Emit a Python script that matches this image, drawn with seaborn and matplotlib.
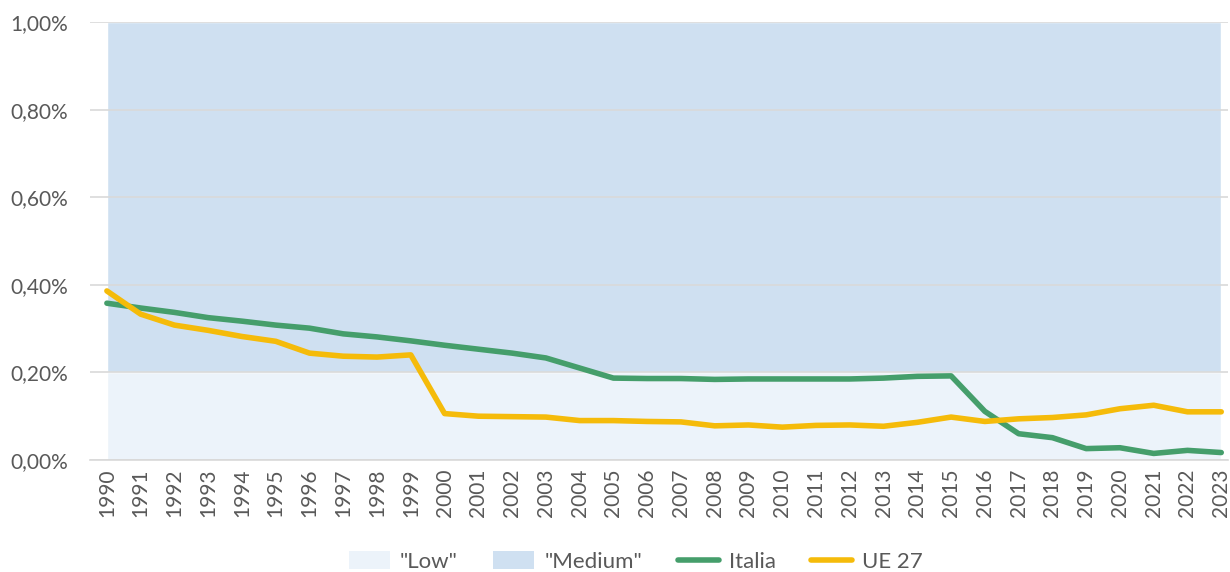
import matplotlib
matplotlib.use("Agg")
import matplotlib.pyplot as plt
from matplotlib.patches import Patch
from matplotlib.lines import Line2D
from matplotlib.ticker import FuncFormatter
import seaborn as sns
import pandas as pd

# data (percent values)
years = list(range(1990, 2024))
italia = [0.358, 0.347, 0.337, 0.325, 0.317, 0.308, 0.301, 0.288, 0.281, 0.272,
          0.262, 0.253, 0.244, 0.233, 0.210, 0.187, 0.186, 0.186, 0.184, 0.185,
          0.185, 0.185, 0.185, 0.187, 0.191, 0.192, 0.111, 0.060, 0.051, 0.026,
          0.028, 0.015, 0.022, 0.017]
ue27 = [0.386, 0.333, 0.308, 0.296, 0.282, 0.271, 0.244, 0.237, 0.235, 0.240,
        0.106, 0.100, 0.099, 0.098, 0.090, 0.090, 0.088, 0.087, 0.078, 0.080,
        0.075, 0.079, 0.080, 0.077, 0.086, 0.098, 0.088, 0.094, 0.097, 0.103,
        0.117, 0.125, 0.110, 0.110]
low_band = [0.20] * len(years)
medium_band = [0.80] * len(years)

df = pd.DataFrame({"Anno": years, "Italia": italia, "UE 27": ue27})

sns.set_style("white")
plt.rcParams["font.family"] = ["Lato", "DejaVu Sans"]

col_low = "#ECF3FA"
col_med = "#CFE0F1"
col_ita = "#459E6B"
col_ue = "#F5BB0A"
txt = "#595959"

fig = plt.figure(figsize=(12.3, 5.72), dpi=100)
ax = fig.add_axes([90 / 1230, 1 - 460 / 572, 1138 / 1230, 438 / 572])

ax.stackplot(years, low_band, medium_band, colors=[col_low, col_med], zorder=1)
sns.lineplot(data=df, x="Anno", y="Italia", ax=ax, color=col_ita, linewidth=4,
             solid_capstyle="round", zorder=3)
sns.lineplot(data=df, x="Anno", y="UE 27", ax=ax, color=col_ue, linewidth=4,
             solid_capstyle="round", zorder=3)

ax.set_xlim(1989.5, 2023.2)
ax.set_ylim(0, 1.0)
ax.set_yticks([0, 0.2, 0.4, 0.6, 0.8, 1.0])
ax.yaxis.set_major_formatter(FuncFormatter(lambda v, p: f"{v:.2f}%".replace(".", ",")))
ax.set_xticks(years)
ax.set_xticklabels([str(y) for y in years], rotation=90)
ax.tick_params(axis="both", length=0, labelsize=15, labelcolor=txt)
ax.tick_params(axis="y", pad=16)
ax.tick_params(axis="x", pad=6)
ax.set_xlabel("")
ax.set_ylabel("")
ax.grid(axis="y", color="#D9D9D9", linewidth=1.2, zorder=2)
ax.set_axisbelow(False)
for s in ["top", "right", "left"]:
    ax.spines[s].set_visible(False)
ax.spines["bottom"].set_color("#D9D9D9")
ax.spines["bottom"].set_linewidth(1.2)

handles = [
    Patch(facecolor=col_low, edgecolor="none", label='"Low"'),
    Patch(facecolor=col_med, edgecolor="none", label='"Medium"'),
    Line2D([0], [0], color=col_ita, linewidth=4, label="Italia"),
    Line2D([0], [0], color=col_ue, linewidth=4, label="UE 27"),
]
fig.legend(handles=handles, loc="lower center", bbox_to_anchor=(0.517, -0.035), ncol=4,
           frameon=False, fontsize=16, labelcolor=txt, handlelength=1.85,
           handleheight=0.85, columnspacing=1.6, handletextpad=0.45)

fig.savefig("out.png", dpi=100)
